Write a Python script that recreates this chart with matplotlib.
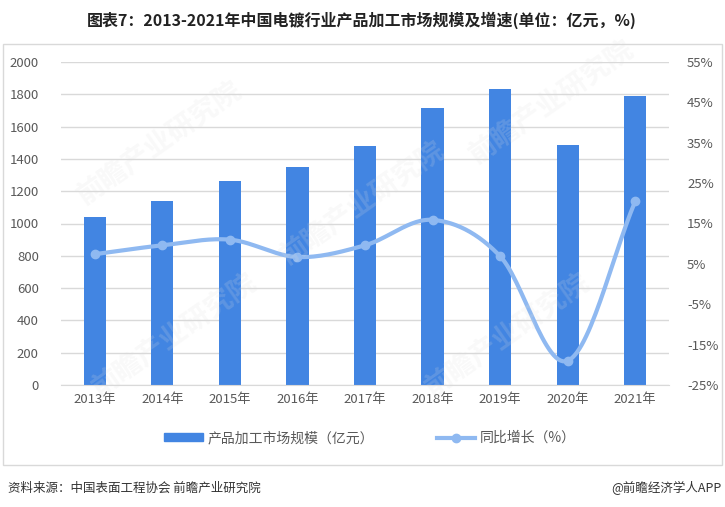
import numpy as np
import matplotlib.pyplot as plt
from matplotlib.patches import Rectangle
from matplotlib.lines import Line2D

plt.rcParams['font.family'] = ['Noto Sans CJK SC', 'DejaVu Sans']

years = ['2013年', '2014年', '2015年', '2016年', '2017年', '2018年', '2019年', '2020年', '2021年']
scale = [1040, 1140, 1265, 1350, 1480, 1715, 1834, 1486, 1790]
growth = [7.4, 9.6, 11.0, 6.7, 9.6, 15.9, 6.9, -19.0, 20.5]

left_ticks = list(range(0, 2001, 200))
right_ticks = list(range(-25, 56, 10))

bar_color = '#4285E2'
line_color = '#8FB9F1'
text_color = '#595959'


def catmull_rom(x, y, n=30):
    # smooth curve through the points, like Excel's smoothed line
    x = np.asarray(x, float)
    y = np.asarray(y, float)
    px = np.concatenate([[2 * x[0] - x[1]], x, [2 * x[-1] - x[-2]]])
    py = np.concatenate([[2 * y[0] - y[1]], y, [2 * y[-1] - y[-2]]])
    xs, ys = [], []
    t = np.linspace(0, 1, n)
    for i in range(1, len(px) - 2):
        p0, p1, p2, p3 = py[i - 1], py[i], py[i + 1], py[i + 2]
        q0, q1, q2, q3 = px[i - 1], px[i], px[i + 1], px[i + 2]
        ys.append(0.5 * ((2 * p1) + (-p0 + p2) * t + (2 * p0 - 5 * p1 + 4 * p2 - p3) * t ** 2
                         + (-p0 + 3 * p1 - 3 * p2 + p3) * t ** 3))
        xs.append(0.5 * ((2 * q1) + (-q0 + q2) * t + (2 * q0 - 5 * q1 + 4 * q2 - q3) * t ** 2
                         + (-q0 + 3 * q1 - 3 * q2 + q3) * t ** 3))
    return np.concatenate(xs), np.concatenate(ys)


W, H = 725, 507
fig = plt.figure(figsize=(W / 100, H / 100), dpi=100)
fig.patch.set_facecolor('white')

# outer frame
fig.patches.append(Rectangle((3 / W, 1 - 465 / H), 719 / W, 421 / H, transform=fig.transFigure,
                             fill=False, edgecolor='#D9D9D9', linewidth=1))

ax = fig.add_axes([61 / W, 1 - 385 / H, (669 - 61) / W, (385 - 62) / H])
x = np.arange(len(years))
ax.bar(x, scale, width=0.33, color=bar_color, zorder=2)
ax.set_xlim(-0.5, len(years) - 0.5)
ax.set_ylim(0, 2000)
ax.set_yticks(left_ticks)
ax.set_xticks(x)
ax.set_xticklabels(years)
ax.grid(axis='y', color='#D9D9D9', linewidth=1, zorder=0)
for s in ['top', 'right', 'left']:
    ax.spines[s].set_visible(False)
ax.spines['bottom'].set_color('#D9D9D9')
ax.tick_params(axis='y', length=0, pad=16, labelsize=9.5, labelcolor=text_color)
ax.tick_params(axis='x', length=0, pad=6, labelsize=9.5, labelcolor=text_color)

ax2 = ax.twinx()
ax2.set_ylim(-25, 55)
ax2.set_yticks(right_ticks)
ax2.set_yticklabels([f'{v}%' for v in right_ticks])
for s in ['top', 'right', 'left', 'bottom']:
    ax2.spines[s].set_visible(False)
ax2.tick_params(axis='y', length=0, pad=13, labelsize=9.5, labelcolor=text_color)
sx, sy = catmull_rom(x, growth)
ax2.plot(sx, sy, color=line_color, linewidth=3, solid_capstyle='round', zorder=3)
ax2.plot(x, growth, 'o', color=line_color, markersize=6, zorder=4)

# faint watermarks
for wx, wy in [(0.22, 0.72), (0.50, 0.60), (0.76, 0.80), (0.24, 0.34), (0.70, 0.34)]:
    fig.text(wx, wy, '前瞻产业研究院', fontsize=20, color='#DDDDDD', alpha=0.18,
             rotation=35, ha='center', va='center', fontweight='bold', zorder=0)

fig.text(362 / W, 1 - 20 / H, '图表7：2013-2021年中国电镀行业产品加工市场规模及增速(单位：亿元，%)',
         ha='center', va='center', fontsize=11.5, fontweight='bold', color='#222222')

handles = [Rectangle((0, 0), 1, 1, color=bar_color),
           Line2D([0], [0], color=line_color, linewidth=3, marker='o', markersize=6)]
fig.legend(handles, ['产品加工市场规模（亿元）', '同比增长（%）'], loc='center',
           bbox_to_anchor=(370 / W, 1 - 438 / H), ncol=2, frameon=False, fontsize=10,
           labelcolor=text_color, handlelength=2.8, handleheight=0.5, columnspacing=4.5,
           handletextpad=0.3)

fig.text(8 / W, 1 - 488 / H, '资料来源：中国表面工程协会 前瞻产业研究院', ha='left', va='center',
         fontsize=9, color='#333333')
fig.text(722 / W, 1 - 488 / H, '@前瞻经济学人APP', ha='right', va='center',
         fontsize=9, color='#333333')

fig.savefig('out.png', dpi=100)
